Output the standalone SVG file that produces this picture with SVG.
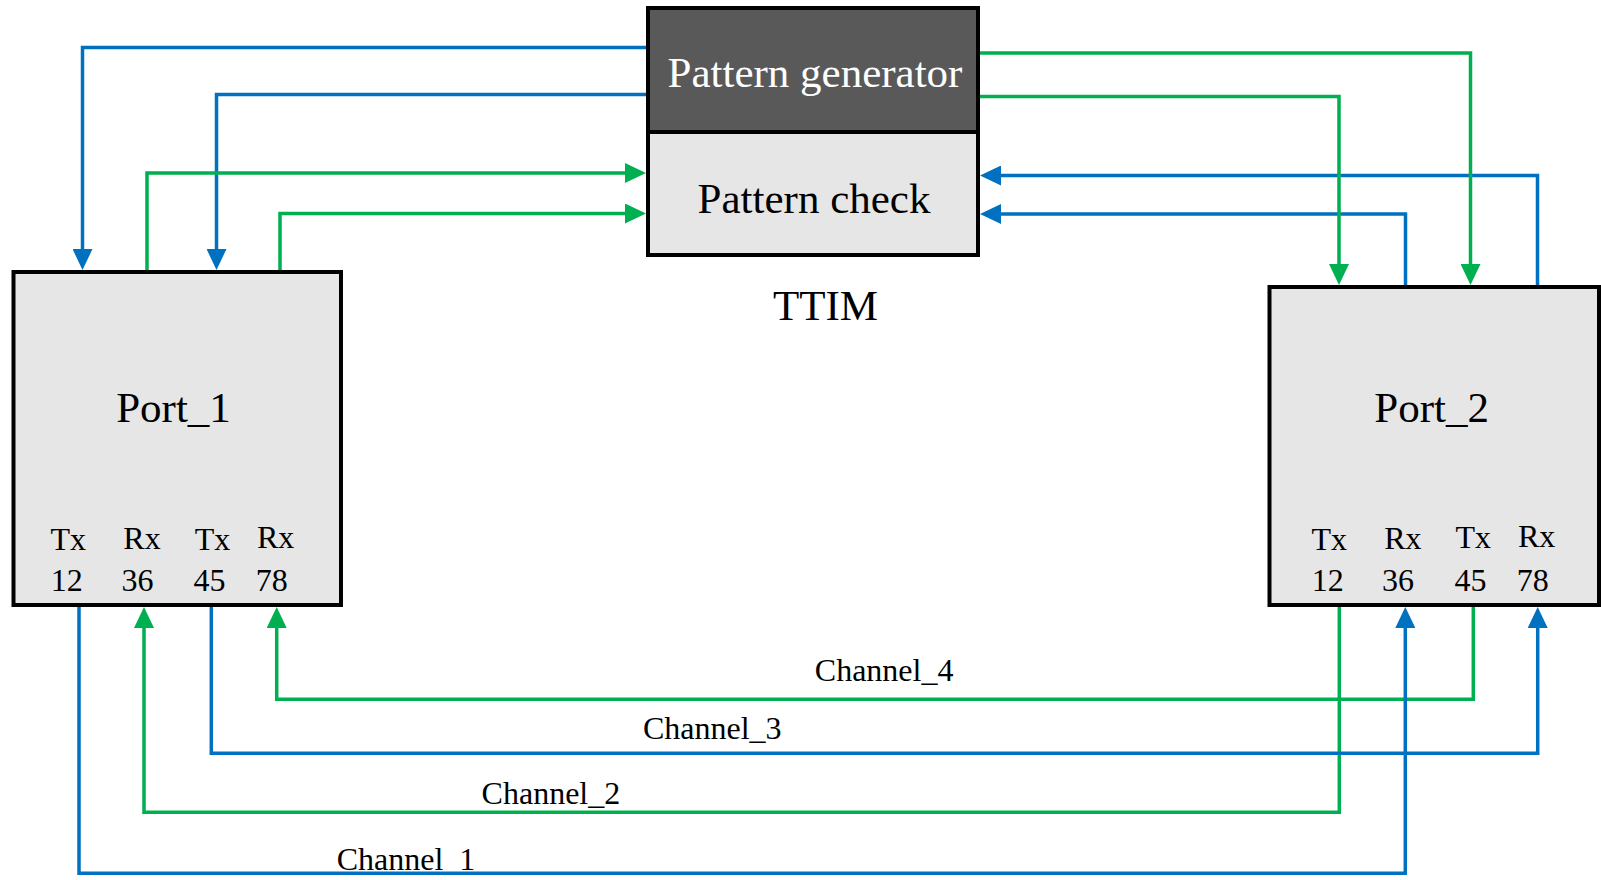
<svg xmlns="http://www.w3.org/2000/svg" width="1601" height="880" viewBox="0 0 1601 880">
  <style>
    .box { stroke: #000; stroke-width: 4; }
    .light { fill: #e6e6e6; }
    .dark { fill: #595959; }
    .big { font-family: "Liberation Serif", "Times New Roman", serif; font-size: 43px; fill: #000; }
    .pin { font-family: "Liberation Serif", "Times New Roman", serif; font-size: 32px; fill: #000; text-anchor: middle; }
    .chan { font-family: "Liberation Serif", "Times New Roman", serif; font-size: 32px; fill: #000; }
    .blue { fill: none; stroke: #0070c0; stroke-width: 3.5; }
    .green { fill: none; stroke: #00b050; stroke-width: 3.5; }
  </style>
  <defs>
    <marker id="arrowBlue" viewBox="0 0 21 20" refX="11" refY="10" markerWidth="21" markerHeight="20" markerUnits="userSpaceOnUse" orient="auto">
      <path d="M0,0 L21,10 L0,20 z" fill="#0070c0"/>
    </marker>
    <marker id="arrowGreen" viewBox="0 0 21 20" refX="11" refY="10" markerWidth="21" markerHeight="20" markerUnits="userSpaceOnUse" orient="auto">
      <path d="M0,0 L21,10 L0,20 z" fill="#00b050"/>
    </marker>
  </defs>
  <rect width="1601" height="880" fill="#fff"/>

  <!-- TTIM: generator over checker -->
  <g id="pattern-generator">
    <rect class="box dark" x="648" y="8" width="330" height="124"/>
    <text class="big" x="815" y="87" text-anchor="middle" style="fill:#fff">Pattern generator</text>
  </g>
  <g id="pattern-check">
    <rect class="box light" x="648" y="132" width="330" height="123"/>
    <text class="big" x="814" y="213" text-anchor="middle">Pattern check</text>
  </g>
  <g id="ttim-label">
    <text class="big" x="825.5" y="320" text-anchor="middle">TTIM</text>
  </g>

  <g id="port-1">
    <rect class="box light" x="13.5" y="272" width="327.5" height="333"/>
    <text class="big" x="173.5" y="422" text-anchor="middle">Port_1</text>
    <text class="pin" x="68.3" y="550">Tx</text>
    <text class="pin" x="66.7" y="591">12</text>
    <text class="pin" x="142" y="549">Rx</text>
    <text class="pin" x="137.5" y="591">36</text>
    <text class="pin" x="212.5" y="549.5">Tx</text>
    <text class="pin" x="209.5" y="591">45</text>
    <text class="pin" x="275.7" y="547.7">Rx</text>
    <text class="pin" x="271.7" y="590.5">78</text>
  </g>

  <g id="port-2">
    <rect class="box light" x="1269.5" y="287" width="329.5" height="318"/>
    <text class="big" x="1431.7" y="422" text-anchor="middle">Port_2</text>
    <text class="pin" x="1329.2" y="550">Tx</text>
    <text class="pin" x="1327.8" y="591">12</text>
    <text class="pin" x="1402.8" y="549">Rx</text>
    <text class="pin" x="1398" y="591">36</text>
    <text class="pin" x="1473.3" y="548.3">Tx</text>
    <text class="pin" x="1470.5" y="591">45</text>
    <text class="pin" x="1536.7" y="546.7">Rx</text>
    <text class="pin" x="1532.8" y="590.5">78</text>
  </g>

  <g id="channel-labels">
    <text class="chan" x="814.8" y="681">Channel_4</text>
    <text class="chan" x="642.9" y="739">Channel_3</text>
    <text class="chan" x="481.6" y="804.3">Channel_2</text>
    <text class="chan" x="336.7" y="869.5">Channel_1</text>
  </g>

  <g id="connectors">
    <!-- generator to Port_1 -->
    <path class="blue" d="M646,47.5 H82.5 V260" marker-end="url(#arrowBlue)"/>
    <path class="blue" d="M646,94.5 H216.5 V260" marker-end="url(#arrowBlue)"/>
    <!-- Port_1 to checker -->
    <path class="green" d="M147,270 V173 H636" marker-end="url(#arrowGreen)"/>
    <path class="green" d="M280,270 V213.5 H636" marker-end="url(#arrowGreen)"/>
    <!-- Port_2 to checker -->
    <path class="blue" d="M1537.5,285 V175.5 H990" marker-end="url(#arrowBlue)"/>
    <path class="blue" d="M1405.5,285 V214 H990" marker-end="url(#arrowBlue)"/>
    <!-- generator to Port_2 -->
    <path class="green" d="M980,53 H1470.5 V275" marker-end="url(#arrowGreen)"/>
    <path class="green" d="M980,96.5 H1339 V275" marker-end="url(#arrowGreen)"/>
    <!-- channels between the ports -->
    <path class="green" d="M1473.3,607 V699.3 H276.7 V617" marker-end="url(#arrowGreen)"/>
    <path class="green" d="M1339.3,607 V812.3 H144 V617" marker-end="url(#arrowGreen)"/>
    <path class="blue" d="M211.3,607 V753.3 H1537.7 V617" marker-end="url(#arrowBlue)"/>
    <path class="blue" d="M79,607 V873.3 H1405.3 V617" marker-end="url(#arrowBlue)"/>
  </g>
</svg>
